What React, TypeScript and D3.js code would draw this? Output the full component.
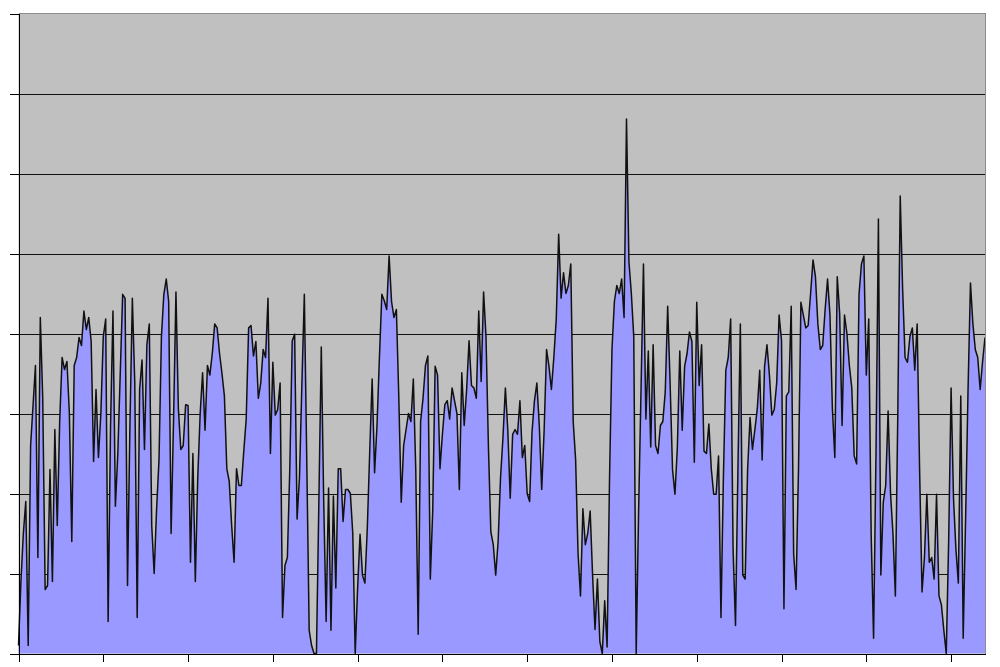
import React, { useRef, useEffect } from 'react';
import * as d3 from 'd3';

// values, one per category (400 categories)
const values: number[] = [
  0.1, 0.9, 1.5, 1.9, 0.1, 2.6, 3.1, 3.6, 1.2, 4.2,
  3.2, 0.8, 0.85, 2.3, 0.9, 2.8, 1.6, 2.9, 3.7, 3.55,
  3.65, 3.0, 1.4, 3.6, 3.7, 3.95, 3.85, 4.28, 4.05, 4.2,
  3.9, 2.4, 3.3, 2.45, 3.0, 3.96, 4.18, 0.4, 2.85, 4.28,
  1.84, 2.5, 3.5, 4.49, 4.44, 0.85, 2.85, 4.44, 3.38, 0.45,
  3.3, 3.67, 2.55, 3.86, 4.12, 1.6, 1.0, 1.8, 2.42, 3.96,
  4.49, 4.68, 4.4, 1.5, 2.9, 4.52, 3.06, 2.55, 2.6, 3.11,
  3.1, 1.14, 2.5, 0.9, 2.2, 3.0, 3.51, 2.79, 3.6, 3.48,
  3.75, 4.12, 4.07, 3.75, 3.5, 3.22, 2.31, 2.15, 1.6, 1.14,
  2.31, 2.1, 2.1, 2.53, 2.93, 4.07, 4.1, 3.72, 3.9, 3.19,
  3.38, 3.8, 3.7, 4.44, 2.5, 3.64, 2.98, 3.05, 3.38, 0.45,
  1.1, 1.2, 2.31, 3.91, 3.99, 1.68, 2.2, 3.38, 4.49, 2.42,
  0.29, 0.1, 0, 0, 1.9, 3.83, 1.9, 0.4, 2.07, 0.29,
  1.97, 0.82, 2.31, 2.31, 1.65, 2.05, 2.05, 2.0, 1.5, 0,
  0.82, 1.49, 0.98, 0.88, 1.57, 2.53, 3.43, 2.26, 2.85, 3.7,
  4.49, 4.41, 4.3, 4.97, 4.4, 4.2, 4.3, 3.2, 1.89, 2.6,
  2.8, 3.0, 2.9, 3.43, 2.3, 0.24, 2.9, 3.19, 3.6, 3.72,
  0.93, 1.78, 3.59, 3.48, 2.31, 2.74, 3.11, 3.16, 2.93, 3.32,
  3.16, 3.0, 2.05, 3.51, 2.85, 3.3, 3.91, 3.35, 3.32, 3.19,
  4.28, 3.4, 4.52, 3.96, 2.58, 1.52, 1.36, 0.98, 1.4, 2.2,
  2.7, 3.32, 2.79, 1.94, 2.74, 2.8, 2.74, 3.16, 2.45, 2.6,
  2.0, 1.9, 2.77, 3.16, 3.38, 2.85, 2.05, 2.79, 3.8, 3.59,
  3.3, 3.7, 4.18, 5.24, 4.44, 4.76, 4.5, 4.6, 4.87, 2.9,
  2.42, 1.25, 0.72, 1.81, 1.36, 1.5, 1.78, 0.98, 0.3, 0.93,
  0.15, 0, 0.66, 0.08, 2.2, 3.8, 4.4, 4.6, 4.5, 4.68,
  4.2, 6.68, 4.9, 4.5, 3.96, 0, 1.78, 3.3, 4.87, 2.93,
  3.78, 2.58, 3.86, 2.6, 2.5, 2.85, 2.9, 3.27, 4.34, 3.38,
  2.3, 1.99, 2.58, 3.78, 2.79, 3.59, 3.75, 4.02, 3.9, 2.39,
  4.39, 3.35, 3.86, 2.53, 2.5, 2.87, 2.31, 1.99, 1.99, 2.47,
  0.45, 2.2, 3.54, 3.7, 4.18, 1.3, 0.35, 2.3, 4.12, 0.98,
  0.93, 2.3, 2.95, 2.55, 2.8, 3.06, 3.54, 2.42, 3.59, 3.86,
  3.48, 2.98, 3.05, 3.38, 4.23, 3.91, 0.56, 3.22, 3.27, 4.34,
  1.25, 0.8, 2.3, 4.39, 4.23, 4.07, 4.1, 4.5, 4.92, 4.71,
  4.12, 3.8, 3.85, 4.3, 4.68, 4.23, 3.06, 2.45, 4.71, 4.25,
  2.85, 4.23, 4.0, 3.6, 3.32, 2.47, 2.37, 4.49, 4.87, 4.97,
  3.48, 4.18, 1.5, 0.19, 2.5, 5.43, 0.98, 1.89, 2.1, 3.03,
  2.0, 1.5, 0.72, 3.0, 5.72, 4.55, 3.7, 3.64, 3.96, 4.07,
  3.54, 4.12, 2.3, 0.77, 1.2, 1.99, 1.14, 1.2, 0.93, 1.99,
  0.72, 0.61, 0.29, 0, 1.41, 3.32, 1.94, 1.3, 0.88, 3.22,
  0.19, 1.7, 3.3, 4.63, 4.12, 3.8, 3.7, 3.3, 3.65, 3.95,
];

const categories: number[] = values.map((_, i) => i);
const yTicks: number[] = [0, 1, 2, 3, 4, 5, 6, 7, 8];
const xTickStep = 35;

const App: React.FC = () => {
  const svgRef = useRef<SVGSVGElement | null>(null);

  useEffect(() => {
    if (!svgRef.current) return;
    const svg = d3.select(svgRef.current);
    svg.selectAll('*').remove();

    const left = 18.5;
    const right = 985;
    const top = 13.5;
    const bottom = 653.5;

    const x = d3.scaleLinear()
      .domain([0, categories.length - 1])
      .range([left, right]);

    const y = d3.scaleLinear()
      .domain([0, 8])
      .range([bottom, top]);

    // plot background
    svg.append('rect')
      .attr('x', left)
      .attr('y', top)
      .attr('width', right - left)
      .attr('height', bottom - top)
      .attr('fill', '#c0c0c0');

    // gridlines
    svg.append('g')
      .selectAll('line')
      .data(yTicks.slice(1, -1))
      .join('line')
      .attr('x1', left)
      .attr('x2', right)
      .attr('y1', d => Math.round(y(d)) + 0.5)
      .attr('y2', d => Math.round(y(d)) + 0.5)
      .attr('stroke', '#111')
      .attr('stroke-width', 1)
      .attr('shape-rendering', 'crispEdges');

    const area = d3.area<number>()
      .x((_, i) => x(categories[i]))
      .y0(y(0))
      .y1(d => y(d));

    const line = d3.line<number>()
      .x((_, i) => x(categories[i]))
      .y(d => y(d));

    svg.append('path')
      .datum(values)
      .attr('fill', '#9999ff')
      .attr('d', area);

    svg.append('path')
      .datum(values)
      .attr('fill', 'none')
      .attr('stroke', '#111')
      .attr('stroke-width', 1.5)
      .attr('stroke-linejoin', 'round')
      .attr('d', line);

    // top and right border
    svg.append('path')
      .attr('d', `M${left},${top}H${right}V${bottom}`)
      .attr('fill', 'none')
      .attr('stroke', '#8c8c8c')
      .attr('stroke-width', 1)
      .attr('shape-rendering', 'crispEdges');

    // y-axis
    svg.append('g')
      .attr('transform', `translate(${left},0)`)
      .call(d3.axisLeft(y)
        .tickValues(yTicks)
        .tickSize(9)
        .tickSizeOuter(0)
        .tickFormat(() => ''))
      .call(g => g.selectAll('path, line')
        .attr('stroke', '#000')
        .attr('shape-rendering', 'crispEdges'));

    // x-axis
    svg.append('g')
      .attr('transform', `translate(0,${bottom})`)
      .call(d3.axisBottom(x)
        .tickValues(categories.filter(c => c % xTickStep === 0))
        .tickSize(8)
        .tickSizeOuter(0)
        .tickFormat(() => ''))
      .call(g => g.selectAll('path, line')
        .attr('stroke', '#000')
        .attr('shape-rendering', 'crispEdges'));
  }, []);

  return (
    <svg
      ref={svgRef}
      width={1000}
      height={667}
      style={{ position: 'absolute', left: 0, top: 0, background: '#fff' }}
    />
  );
};

export default App;
